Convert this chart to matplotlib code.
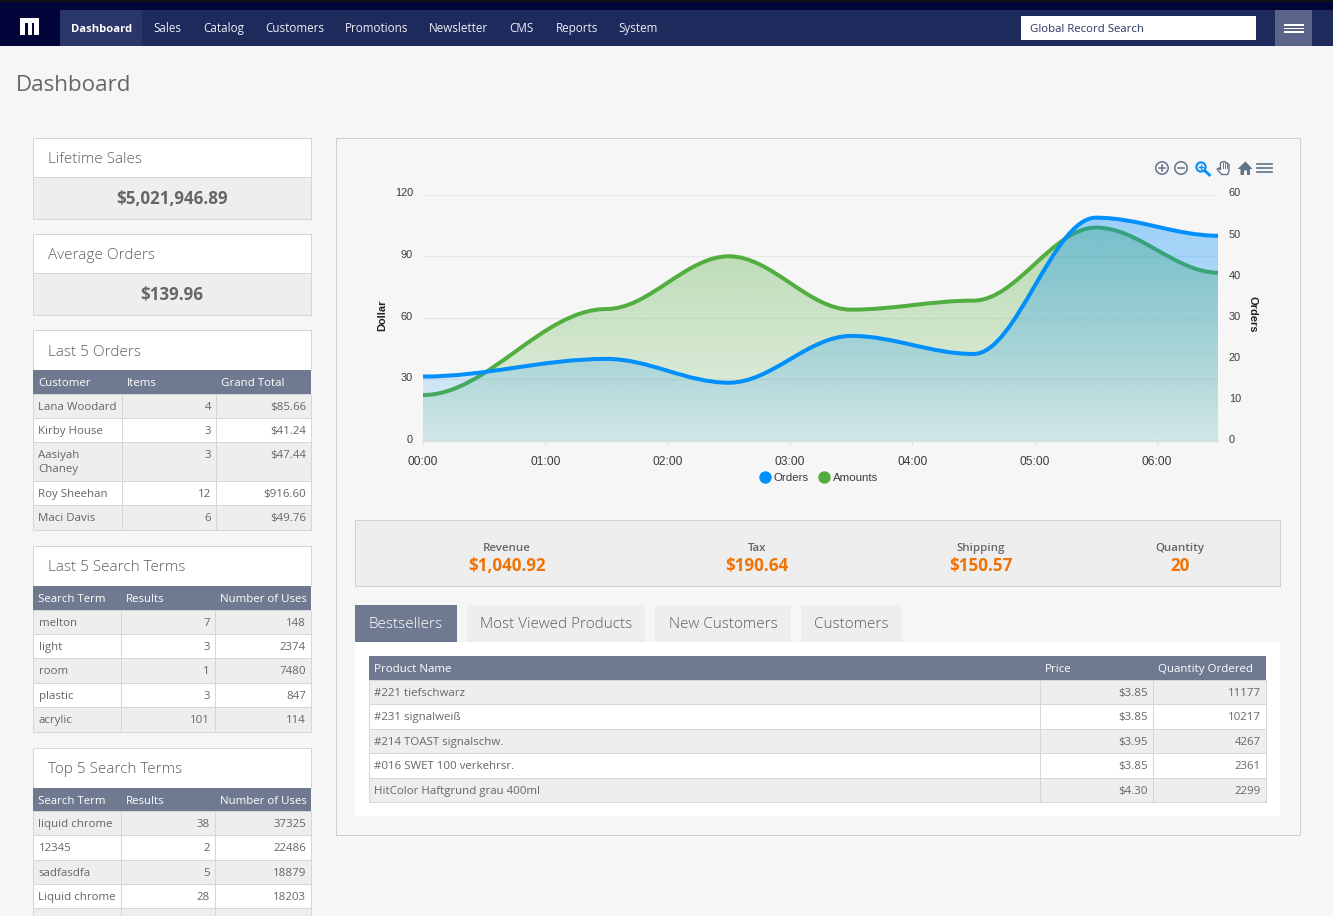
#!/usr/bin/env python3
"""Admin dashboard screenshot: page furniture in pixel coords, real twin axes for the chart."""
import numpy as np
import matplotlib
matplotlib.use("Agg")
import matplotlib.pyplot as plt
from matplotlib.lines import Line2D
from matplotlib.patches import Rectangle, Circle, PathPatch, Polygon
from matplotlib.path import Path
from matplotlib.transforms import ScaledTranslation

W, H = 1333, 916
UI = ["Open Sans", "DejaVu Sans"]
CHART = ["Liberation Sans", "DejaVu Sans"]
plt.rcParams["font.family"] = UI

# ---- chart data ------------------------------------------------------------
hours = [0, 1.5, 2.5, 3.5, 4.5, 5.5, 6.5]
orders = [15.7, 20, 14.2, 25.6, 21.2, 54.4, 50]
amounts = [22.4, 64.3, 90, 64, 68.4, 104, 82]
x_ticks = [0, 1, 2, 3, 4, 5, 6]
x_labels = ["00:00", "01:00", "02:00", "03:00", "04:00", "05:00", "06:00"]
dollar_ticks = [0, 30, 60, 90, 120]
order_ticks = [0, 10, 20, 30, 40, 50, 60]

# ---- page text -------------------------------------------------------------
nav_items = ["Sales", "Catalog", "Customers", "Promotions", "Newsletter", "CMS", "Reports", "System"]
nav_x = [153, 203, 265, 345, 429, 509, 556, 618]
lifetime = ("Lifetime Sales", "$5,021,946.89")
average = ("Average Orders", "$139.96")

orders_head = ["Customer", "Items", "Grand Total"]
orders_rows = [["Lana Woodard", "4", "$85.66"], ["Kirby House", "3", "$41.24"],
               ["Aasiyah\nChaney", "3", "$47.44"], ["Roy Sheehan", "12", "$916.60"],
               ["Maci Davis", "6", "$49.76"]]
search_head = ["Search Term", "Results", "Number of Uses"]
last_rows = [["melton", "7", "148"], ["light", "3", "2374"], ["room", "1", "7480"],
             ["plastic", "3", "847"], ["acrylic", "101", "114"]]
top_rows = [["liquid chrome", "38", "37325"], ["12345", "2", "22486"], ["sadfasdfa", "5", "18879"],
            ["Liquid chrome", "28", "18203"], ["", "", ""]]
summary = [("Revenue", "$1,040.92", 507), ("Tax", "$190.64", 757),
           ("Shipping", "$150.57", 981), ("Quantity", "20", 1180)]
tabs = [("Bestsellers", 355, 457), ("Most Viewed Products", 467, 645),
        ("New Customers", 655, 791), ("Customers", 801, 902)]
best_head = ["Product Name", "Price", "Quantity Ordered"]
best_rows = [["#221 tiefschwarz", "$3.85", "11177"], ["#231 signalweiß", "$3.85", "10217"],
             ["#214 TOAST signalschw.", "$3.95", "4267"], ["#016 SWET 100 verkehrsr.", "$3.85", "2361"],
             ["HitColor Haftgrund grau 400ml", "$4.30", "2299"]]

BG = "#f6f6f6"
HEAD = "#6f7a90"
GREY = "#eeeeee"
LINE = "#d6d6d6"
TXT = "#666666"
TITLE = "#5f5f5f"
ORANGE = "#ef7405"
BLUE = "#008ffb"
GREEN = "#52ae40"
THIN = 0.72

fig = plt.figure(figsize=(W / 100, H / 100), dpi=100, facecolor=BG)
pg = fig.add_axes([0, 0, 1, 1])
pg.set_xlim(0, W); pg.set_ylim(H, 0); pg.axis("off")


def px(s):
    return s * 0.72


def box(x0, y0, x1, y1, fc, ec="none", lw=THIN, z=1):
    pg.add_patch(Rectangle((x0, y0), x1 - x0, y1 - y0, fc=fc, ec=ec, lw=lw, zorder=z))


def label(x, y, s, size=11.5, color=TXT, ha="left", weight="normal", z=6):
    # y is the visual middle of the x-height/caps, anchored on the baseline so rows line up
    pg.text(x, y + size * 0.36, s, fontsize=px(size), color=color, ha=ha, va="baseline",
            fontweight=weight, zorder=z)


def stat_panel(y, title, value):
    box(33, y, 311, y + 39, "white", LINE)
    box(33, y + 39, 311, y + 81, GREY, LINE)
    label(48, y + 19.5, title, 15.3, TITLE, weight="light")
    label(172, y + 60, value, 17, TXT, ha="center", weight="bold")


def table(x0, xs, x1, head_y, row_ys, head, rows):
    """xs = inner column edges; row_ys = row edges top to bottom."""
    edges = [x0] + xs + [x1]
    box(x0, head_y, x1, row_ys[0], HEAD, z=3)
    for i, h in enumerate(head):
        label(edges[i] + 5, (head_y + row_ys[0]) / 2, h, 11.5, "white")
    for r, row in enumerate(rows):
        top, bot = row_ys[r], row_ys[r + 1]
        box(x0, top, x1, bot, GREY if r % 2 == 0 else "white", LINE, z=3)
        for e in xs:
            pg.plot([e, e], [top, bot], color=LINE, lw=THIN, zorder=4)
        for n, part in enumerate(row[0].split("\n")):
            label(x0 + 5.5, top + 12 + n * 14, part)
        for c in range(1, len(row)):
            label(edges[c + 1] - 5, top + 12, row[c], ha="right")


# ---- top bar ---------------------------------------------------------------
box(0, 0, W, 46, "#1f2a5c", z=1)
box(0, 0, W, 10, "#02043a", z=2)
box(0, 0, W, 1.5, "#111111", z=2)
box(0, 10, 60, 46, "#02043a", z=2)
box(60, 10, 142, 46, "#2a3668", z=2)
box(1021, 16, 1256, 40, "white", z=2)
box(1275, 10, 1312, 46, "#5b658a", z=2)
for yy in (25, 28.5, 32):
    box(1284, yy - 0.8, 1304, yy + 0.8, "white", z=3)
# logo
box(20, 18, 39, 23, "white", z=3)
for lx, lw_ in ((20, 5), (27.5, 4), (34, 5)):
    box(lx, 23, lx + lw_, 35, "white", z=3)
label(71, 28, "Dashboard", 11.2, "white", weight="bold")
for s, x in zip(nav_items, nav_x):
    label(x, 28, s, 11.6, "#eef0f6")
label(1030, 28, "Global Record Search", 11.4, "#2b3566")
label(16, 83, "Dashboard", 22.4, "#666666")

# ---- left column -----------------------------------------------------------
stat_panel(138, *lifetime)
stat_panel(234, *average)

box(33, 330, 311, 370, "white", LINE)
label(48, 350, "Last 5 Orders", 15.3, TITLE, weight="light")
table(33, [122, 216], 311, 370, [394, 418, 442, 481, 505, 530], orders_head, orders_rows)

box(33, 546, 311, 586, "white", LINE)
label(48, 565.5, "Last 5 Search Terms", 15.3, TITLE, weight="light")
table(33, [121, 215], 311, 586, [610, 634, 658, 683, 707, 732], search_head, last_rows)

box(33, 748, 311, 788, "white", LINE)
label(48, 767.5, "Top 5 Search Terms", 15.3, TITLE, weight="light")
table(33, [121, 215], 311, 788, [811, 835, 860, 884, 908, 933], search_head, top_rows)

# ---- right panel -----------------------------------------------------------
box(336, 138, 1300, 835, BG, "#cfcfcf")
box(355, 520, 1280, 585.5, GREY, "#cfcfcf", z=2)
for name, val, cx in summary:
    label(cx, 547, name, 11.5, TXT, ha="center", weight="semibold")
    label(cx, 565, val, 17, ORANGE, ha="center", weight="bold")
for i, (name, x0, x1) in enumerate(tabs):
    box(x0, 605, x1, 642, HEAD if i == 0 else "#eeeeee", z=2)
    label((x0 + x1) / 2, 623, name, 15.2, "white" if i == 0 else TITLE, ha="center", weight="light")
box(355, 642, 1280, 816, "white", z=2)
table(369, [1040, 1152.5], 1266, 656, [680, 704, 728.5, 753, 777.5, 802], best_head, best_rows)

# chart toolbar icons
ICON = "#5f7488"
for cx in (1162, 1181):
    pg.add_patch(Circle((cx, 168), 6.2, fc="none", ec=ICON, lw=1.1, zorder=5))
    pg.plot([cx - 3.3, cx + 3.3], [168, 168], color=ICON, lw=1.1, zorder=5)
pg.plot([1162, 1162], [164.7, 171.3], color=ICON, lw=1.1, zorder=5)
pg.add_patch(Circle((1201, 167), 4.6, fc="none", ec=BLUE, lw=1.5, zorder=5))
pg.plot([1204.5, 1209.5], [170.5, 175], color=BLUE, lw=2, zorder=5)
pg.plot([1199, 1203], [167, 167], color=BLUE, lw=1, zorder=5)
pg.plot([1201, 1201], [165, 169], color=BLUE, lw=1, zorder=5)
# hand
pg.add_patch(Polygon([(1217, 169), (1219, 168), (1220.5, 170), (1220.5, 163), (1222, 162), (1223, 162),
                      (1224, 161.5), (1225, 162), (1226, 162.5), (1227, 163), (1228, 164), (1229, 164.5),
                      (1229, 171), (1227.5, 174.5), (1221.5, 174.5)], fc="white", ec=ICON, lw=1, zorder=5))
for hx in (1223, 1225.2, 1227.2):
    pg.plot([hx, hx], [163, 168], color=ICON, lw=0.7, zorder=6)
# home
pg.add_patch(Polygon([(1237.5, 169), (1245.5, 161.5), (1252.5, 169), (1250, 169), (1250, 175), (1247, 175),
                      (1247, 170.5), (1244, 170.5), (1244, 175), (1240.5, 175), (1240.5, 169)],
                     fc=ICON, ec="none", zorder=5))
for yy in (164, 168.2, 172.4):
    pg.plot([1257.3, 1271.5], [yy, yy], color=ICON, lw=1.2, zorder=5)

# ---- the chart -------------------------------------------------------------
L, R, T, B = 423, 1218.3, 194.7, 441
ax = fig.add_axes([L / W, 1 - B / H, (R - L) / W, (B - T) / H], facecolor="none", zorder=3)
ax2 = ax.twinx()
ax2.set_zorder(4)
ax2.patch.set_visible(False)


def smooth(xs, ys, c=0.35):
    """bezier with flat tangents at each point, same look as the web chart."""
    verts, codes = [(xs[0], ys[0])], [Path.MOVETO]
    for i in range(1, len(xs)):
        d = xs[i] - xs[i - 1]
        verts += [(xs[i - 1] + d * c, ys[i - 1]), (xs[i] - d * c, ys[i]), (xs[i], ys[i])]
        codes += [Path.CURVE4] * 3
    return verts, codes


def area(axis, xs, ys, color, top, a_top, a_bot):
    verts, codes = smooth(xs, ys)
    line = Path(verts, codes)
    closed = Path(verts + [(xs[-1], 0), (xs[0], 0), (xs[0], 0)],
                  codes + [Path.LINETO, Path.LINETO, Path.CLOSEPOLY])
    rgb = matplotlib.colors.to_rgb(color)
    grad = np.zeros((256, 1, 4))
    grad[..., :3] = rgb
    grad[..., 3] = np.linspace(a_top, a_bot, 256)[:, None]
    im = axis.imshow(grad, extent=(xs[0], xs[-1], 0, top), origin="upper", aspect="auto", zorder=1,
                     interpolation="bilinear")
    clip = PathPatch(closed, transform=axis.transData, fc="none", ec="none")
    axis.add_patch(clip)
    im.set_clip_path(clip)
    axis.add_patch(PathPatch(line, fc="none", ec=color, lw=px(4), capstyle="round", joinstyle="round", zorder=2))


area(ax, hours, amounts, GREEN, 120, 0.42, 0.10)
area(ax2, hours, orders, BLUE, 60, 0.40, 0.09)

ax.set_xlim(0, 6.5); ax.set_ylim(0, 120)
ax2.set_xlim(0, 6.5); ax2.set_ylim(0, 60)
ax.set_xticks(x_ticks, x_labels)
ax.set_yticks(dollar_ticks)
ax2.set_yticks(order_ticks)
ax.grid(axis="y", color="#e8e8e8", lw=1)
ax.set_axisbelow(True)
for a in (ax, ax2):
    for s in a.spines.values():
        s.set_visible(False)
    a.spines["bottom"].set_visible(True)
    a.spines["bottom"].set_color("#e0e0e0")
ax.tick_params(axis="x", length=3, color="#e0e0e0", pad=7.5, labelsize=px(12), labelcolor="#373d3f")
ax.tick_params(axis="y", length=0, pad=7.2, labelsize=px(11), labelcolor="#373d3f")
ax2.tick_params(axis="y", length=0, pad=7.6, labelsize=px(11), labelcolor="#373d3f")
up = ScaledTranslation(0, 0.022, fig.dpi_scale_trans)
for lab in ax.get_yticklabels() + ax2.get_yticklabels():
    lab.set_transform(lab.get_transform() + up)
for lab in ax.get_xticklabels() + ax.get_yticklabels() + ax2.get_yticklabels():
    lab.set_fontfamily(CHART)

pg.text(382.5, 315, "Dollar", rotation=90, ha="center", va="center", fontsize=px(11), fontweight="bold",
        color="#222222", family=CHART, zorder=6)
pg.text(1253, 314, "Orders", rotation=270, ha="center", va="center", fontsize=px(11), fontweight="bold",
        color="#222222", family=CHART, zorder=6)

handles = [Line2D([], [], ls="", marker="o", ms=px(11), color=BLUE, label="Orders"),
           Line2D([], [], ls="", marker="o", ms=px(11), color=GREEN, label="Amounts")]
leg = ax2.legend(handles=handles, ncol=2, frameon=False, loc="center",
                 bbox_to_anchor=((818 - L) / (R - L), (B - 478) / (B - T)),
                 handletextpad=0.1, columnspacing=0.8, handlelength=1.2, borderpad=0,
                 prop={"family": CHART, "size": px(11.5)})
for t in leg.get_texts():
    t.set_color("#373d3f")

fig.savefig("out.png", dpi=100, facecolor=BG)
